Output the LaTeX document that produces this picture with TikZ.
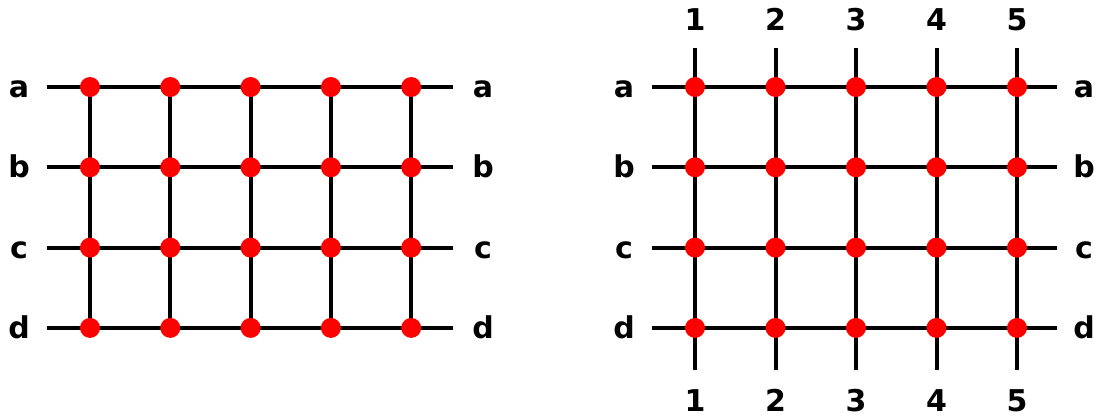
\documentclass[tikz,border=0pt]{standalone}
\usepackage{fontspec}
\setmainfont{DejaVu Sans}
\begin{document}
\begin{tikzpicture}[x=1pt, y=-1pt,
  dot/.style={circle, fill=red, inner sep=0pt, minimum size=20pt},
  wire/.style={line width=4pt},
  lbl/.style={anchor=base, inner sep=0pt, font=\fontsize{30}{32}\selectfont\bfseries}]
\useasboundingbox (0,0) rectangle (1096,416);

% --- Grid points and wire ends ---
\foreach \r [count=\j from 0] in {a,b,c,d} {
  \coordinate (Lw\r) at (47, 87+80.3*\j);
  \coordinate (Le\r) at (453, 87+80.3*\j);
  \coordinate (Rw\r) at (652, 87+80.3*\j);
  \coordinate (Re\r) at (1057, 87+80.3*\j);
  \foreach \c in {1,...,5} {
    \coordinate (L\r\c) at (90+80.3*\c-80.3, 87+80.3*\j);
    \coordinate (R\r\c) at (695+80.5*\c-80.5, 87+80.3*\j);
  }
}
\foreach \c in {1,...,5} {
  \coordinate (Rn\c) at (695+80.5*\c-80.5, 48);
  \coordinate (Rs\c) at (695+80.5*\c-80.5, 370);
}

% --- Left grid: wires ---
\foreach \r in {a,...,d} \draw[wire] (Lw\r) -- (Le\r);
\foreach \c in {1,...,5} \draw[wire] (La\c) -- (Ld\c);

% --- Right grid: wires run past the outer rows ---
\foreach \r in {a,...,d} \draw[wire] (Rw\r) -- (Re\r);
\foreach \c in {1,...,5} \draw[wire] (Rn\c) -- (Rs\c);

% --- Crossing points ---
\foreach \r in {a,...,d} {
  \foreach \c in {1,...,5} {
    \node[dot] (dL\r\c) at (L\r\c) {};
    \node[dot] (dR\r\c) at (R\r\c) {};
  }
}

% --- Row labels ---
\foreach \r [count=\j from 0] in {a,b,c,d} {
  \node[lbl] (tLw\r) at (19, 97.5+80.3*\j) {\r};
  \node[lbl] (tLe\r) at (483, 97.5+80.3*\j) {\r};
  \node[lbl] (tRw\r) at (624, 97.5+80.3*\j) {\r};
  \node[lbl] (tRe\r) at (1084, 97.5+80.3*\j) {\r};
}

% --- Column labels ---
\foreach \c in {1,...,5} {
  \node[lbl] (tRn\c) at (695+80.5*\c-80.5, 30) {\c};
  \node[lbl] (tRs\c) at (695+80.5*\c-80.5, 411) {\c};
}

\end{tikzpicture}
\end{document}
